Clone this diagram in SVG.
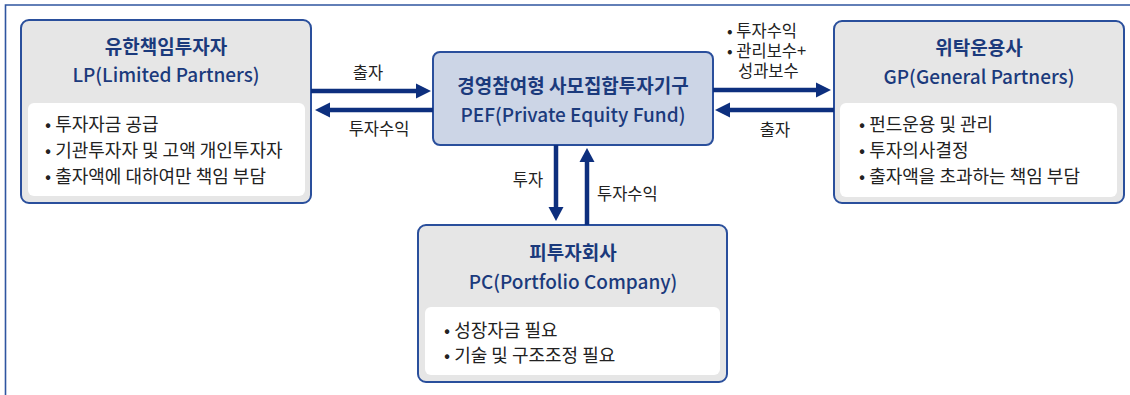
<svg xmlns="http://www.w3.org/2000/svg" width="1130" height="395" viewBox="0 0 1130 395">
  <style>
    .frame { fill: none; stroke: #2f55a0; stroke-width: 1.6; }
    .box { fill: #e6e6e6; stroke: #2a4f9c; stroke-width: 2; }
    .pef { fill: #ccd5e6; stroke: #2a4f9c; stroke-width: 2; }
    .inner { fill: #ffffff; }
    text { font-family: "Noto Sans CJK KR", "Noto Sans", sans-serif; }
    .title { font-size: 19px; font-weight: bold; fill: #1b3a7c; text-anchor: middle; }
    .sub { font-size: 19px; font-weight: 500; fill: #1b3a7c; text-anchor: middle; }
    .item { font-size: 18px; fill: #222222; }
    .lbl { font-size: 16.5px; fill: #222222; }
    .shaft { stroke: #0d2f7e; stroke-width: 4.5; fill: none; }
    .head { fill: #0d2f7e; }
  </style>

  <!-- outer frame (open at the right and bottom) -->
  <path class="frame" d="M5.5 395 V5 H1130"/>

  <!-- LP -->
  <g id="lp">
    <rect class="box" x="21" y="20" width="290" height="183" rx="8"/>
    <rect class="inner" x="28" y="103" width="277" height="93" rx="6"/>
    <text class="title" x="166" y="54">유한책임투자자</text>
    <text class="sub" x="166" y="82">LP(Limited Partners)</text>
    <text class="item" x="45" y="131">• 투자자금 공급</text>
    <text class="item" x="45" y="157">• 기관투자자 및 고액 개인투자자</text>
    <text class="item" x="45" y="183">• 출자액에 대하여만 책임 부담</text>
  </g>

  <!-- PEF -->
  <g id="pef">
    <rect class="pef" x="433" y="52" width="280" height="93" rx="7"/>
    <text class="title" x="573" y="93">경영참여형 사모집합투자기구</text>
    <text class="sub" x="573" y="122">PEF(Private Equity Fund)</text>
  </g>

  <!-- GP -->
  <g id="gp">
    <rect class="box" x="834" y="21" width="290" height="182" rx="8"/>
    <rect class="inner" x="840" y="103" width="277" height="94" rx="6"/>
    <text class="title" x="979" y="55">위탁운용사</text>
    <text class="sub" x="979" y="84">GP(General Partners)</text>
    <text class="item" x="859" y="131">• 펀드운용 및 관리</text>
    <text class="item" x="859" y="157">• 투자의사결정</text>
    <text class="item" x="859" y="183">• 출자액을 초과하는 책임 부담</text>
  </g>

  <!-- PC -->
  <g id="pc">
    <rect class="box" x="418" y="225" width="309" height="157" rx="8"/>
    <rect class="inner" x="425" y="307" width="295" height="68" rx="6"/>
    <text class="title" x="573" y="260">피투자회사</text>
    <text class="sub" x="573" y="289">PC(Portfolio Company)</text>
    <text class="item" x="444" y="337">• 성장자금 필요</text>
    <text class="item" x="444" y="362">• 기술 및 구조조정 필요</text>
  </g>

  <!-- connectors -->
  <g id="connectors">
    <!-- LP -> PEF : 출자 -->
    <line class="shaft" x1="311" y1="91" x2="417" y2="91"/>
    <polygon class="head" points="416,83.5 431,91 416,98.5"/>
    <!-- PEF -> LP : 투자수익 -->
    <line class="shaft" x1="433" y1="110" x2="328" y2="110"/>
    <polygon class="head" points="330,102.5 315,110 330,117.5"/>
    <!-- PEF -> GP : 투자수익, 보수 -->
    <line class="shaft" x1="713" y1="90" x2="818" y2="90"/>
    <polygon class="head" points="816,82.5 831,90 816,97.5"/>
    <!-- GP -> PEF : 출자 -->
    <line class="shaft" x1="834" y1="110" x2="728" y2="110"/>
    <polygon class="head" points="730,102.5 715,110 730,117.5"/>
    <!-- PEF -> PC : 투자 -->
    <line class="shaft" x1="556" y1="145" x2="556" y2="209"/>
    <polygon class="head" points="548.5,207 556,221 563.5,207"/>
    <!-- PC -> PEF : 투자수익 -->
    <line class="shaft" x1="587" y1="225" x2="587" y2="160"/>
    <polygon class="head" points="579.5,162 587,148 594.5,162"/>

    <text class="lbl" x="368" y="79" text-anchor="middle">출자</text>
    <text class="lbl" x="379" y="135" text-anchor="middle">투자수익</text>
    <text class="lbl"><tspan x="727" y="37">• 투자수익</tspan><tspan x="727" y="57">• 관리보수+</tspan><tspan x="738" y="77">성과보수</tspan></text>
    <text class="lbl" x="775" y="136" text-anchor="middle">출자</text>
    <text class="lbl" x="528" y="186" text-anchor="middle">투자</text>
    <text class="lbl" x="597" y="200">투자수익</text>
  </g>
</svg>
